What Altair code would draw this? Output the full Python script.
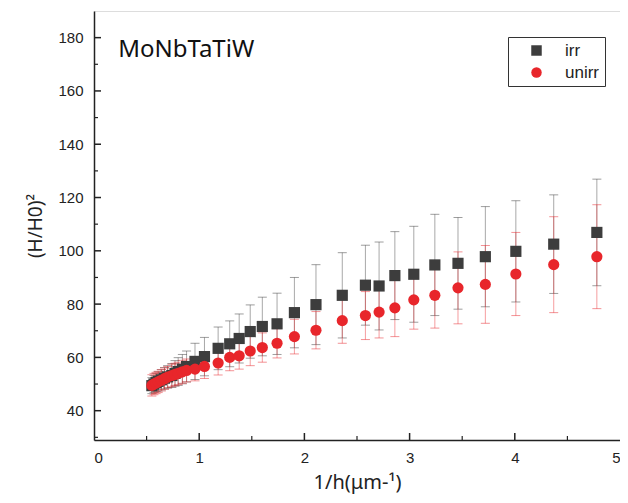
import altair as alt
import pandas as pd

# ---- data ----
x_vals = [0.55, 0.57, 0.59, 0.61, 0.64, 0.67, 0.70, 0.74, 0.77, 0.80, 0.84, 0.88,
          0.96, 1.05, 1.18, 1.29, 1.38, 1.485, 1.60, 1.74, 1.905, 2.11, 2.36, 2.58,
          2.71, 2.86, 3.04, 3.24, 3.46, 3.72, 4.01, 4.37, 4.78]
irr_y = [49.4, 50.0, 50.6, 51.0, 51.6, 52.2, 52.7, 53.2, 54.0, 54.7, 55.6, 56.6,
         58.5, 60.3, 63.4, 65.1, 67.1, 69.7, 71.6, 72.6, 76.8, 79.8, 83.3, 87.1,
         86.8, 90.7, 91.2, 94.7, 95.3, 97.8, 99.8, 102.5, 106.9]
irr_err = [3.0, 3.2, 3.4, 3.6, 3.8, 4.0, 4.2, 4.5, 4.8, 5.2, 5.5, 5.8,
           6.8, 7.2, 8.0, 8.6, 9.2, 10.0, 11.0, 11.5, 13.2, 15.0, 16.0, 15.0,
           16.5, 16.5, 18.0, 19.0, 17.2, 18.8, 19.0, 18.5, 20.0]
unirr_y = [49.5, 50.0, 50.4, 50.8, 51.4, 52.0, 52.6, 53.2, 53.6, 54.0, 54.6, 55.1,
           55.6, 56.6, 57.9, 60.0, 60.6, 62.4, 63.7, 65.3, 67.8, 70.2, 73.8, 75.7,
           77.0, 78.6, 81.6, 83.3, 86.1, 87.4, 91.3, 94.8, 97.8]
unirr_err = [4.0, 4.0, 4.0, 4.0, 4.0, 4.0, 4.0, 4.2, 4.2, 4.2, 4.3, 4.3,
             4.4, 4.5, 4.5, 5.0, 5.0, 5.5, 5.5, 5.5, 6.5, 7.0, 8.5, 9.0,
             9.7, 10.8, 11.0, 12.3, 13.5, 14.6, 15.6, 18.0, 19.5]
series_names = ["irr", "unirr"]

x_labels = [0, 1, 2, 3, 4, 5]
y_major = [40, 60, 80, 100, 120, 140, 160, 180]
y_minor = [30, 50, 70, 90, 110, 130, 150, 170]
x_major = [1, 2, 3, 4]
x_minor = [0.5, 1.5, 2.5, 3.5, 4.5]
label_text = ["MoNbTaTiW"]
label_x = [0.23]
label_y = [175.5]

# ---- tables ----
irr_df = pd.DataFrame({"x": x_vals, "y": irr_y,
                       "lo": [a - b for a, b in zip(irr_y, irr_err)],
                       "hi": [a + b for a, b in zip(irr_y, irr_err)],
                       "series": series_names[0]})
unirr_df = pd.DataFrame({"x": x_vals, "y": unirr_y,
                         "lo": [a - b for a, b in zip(unirr_y, unirr_err)],
                         "hi": [a + b for a, b in zip(unirr_y, unirr_err)],
                         "series": series_names[1]})
pts_df = pd.concat([irr_df, unirr_df], ignore_index=True)

GRAY = "#3d3d3d"
RED = "#e8262b"
XDOM = [0, 5]
YDOM = [29, 190]
FONT = "Liberation Sans"
TFONT = "Noto Sans"
W, H = 526, 429
# inward tick lengths expressed in data units (7 px and 4 px)
XU = (XDOM[1] - XDOM[0]) / W
YU = (YDOM[1] - YDOM[0]) / H

xs = alt.Scale(domain=XDOM, nice=False, zero=False)
ys = alt.Scale(domain=YDOM, nice=False, zero=False)

x_axis = alt.Axis(values=x_labels, format="d", title="1/h(μm-¹)", ticks=False, grid=False,
                  labelFont=FONT, labelFontSize=15, labelColor="#222", labelPadding=10,
                  titleFont=TFONT, titleFontSize=20, titleFontWeight="normal",
                  titleColor="#222", titlePadding=7, domainColor="#222", domainWidth=1.5)
y_axis = alt.Axis(values=y_major, title="(H/H0)²", ticks=False, grid=False,
                  labelFont=FONT, labelFontSize=15, labelColor="#222", labelPadding=11,
                  titleFont=TFONT, titleFontSize=19, titleFontWeight="normal",
                  titleColor="#222", titlePadding=12, domainColor="#222", domainWidth=1.5)


def err_layers(df, color):
    base = alt.Chart(df)
    rule = base.mark_rule(color=color, strokeWidth=1, opacity=0.45).encode(
        x=alt.X("x:Q", scale=xs, axis=x_axis), y=alt.Y("lo:Q", scale=ys, axis=y_axis), y2="hi:Q")
    cap_lo = base.mark_tick(color=color, orient="horizontal", size=9, thickness=1, opacity=0.5).encode(
        x=alt.X("x:Q", scale=xs), y=alt.Y("lo:Q", scale=ys))
    cap_hi = base.mark_tick(color=color, orient="horizontal", size=9, thickness=1, opacity=0.5).encode(
        x=alt.X("x:Q", scale=xs), y=alt.Y("hi:Q", scale=ys))
    return [rule, cap_lo, cap_hi]


legend = alt.Legend(orient="none", legendX=414, legendY=26, title=None,
                    strokeColor="#333", fillColor="white", padding=5,
                    labelFont=FONT, labelFontSize=17, labelColor="#222",
                    symbolSize=110, rowPadding=4, labelOffset=20, symbolOffset=15,
                    symbolOpacity=1)

points = alt.Chart(pts_df).mark_point(filled=True, size=125, opacity=1).encode(
    x=alt.X("x:Q", scale=xs),
    y=alt.Y("y:Q", scale=ys),
    color=alt.Color("series:N", scale=alt.Scale(domain=series_names, range=[GRAY, RED]),
                    legend=legend),
    shape=alt.Shape("series:N", scale=alt.Scale(domain=series_names, range=["square", "circle"]),
                    legend=legend),
)


def yticks(vals, length, sw):
    df = pd.DataFrame({"v": vals, "a": XDOM[0], "b": XDOM[0] + length * XU})
    return alt.Chart(df).mark_rule(color="#222", strokeWidth=sw).encode(
        y=alt.Y("v:Q", scale=ys), x=alt.X("a:Q", scale=xs), x2="b:Q")


def xticks(vals, length, sw):
    df = pd.DataFrame({"v": vals, "a": YDOM[0], "b": YDOM[0] + length * YU})
    return alt.Chart(df).mark_rule(color="#222", strokeWidth=sw).encode(
        x=alt.X("v:Q", scale=xs), y=alt.Y("a:Q", scale=ys), y2="b:Q")


label = alt.Chart(pd.DataFrame({"t": label_text, "x": label_x, "y": label_y})).mark_text(
    align="left", baseline="middle", font=TFONT, fontSize=24, color="#111").encode(
    x=alt.X("x:Q", scale=xs), y=alt.Y("y:Q", scale=ys), text="t:N")

layers = err_layers(irr_df, GRAY) + err_layers(unirr_df, RED) + [
    points, yticks(y_major, 7, 1.5), yticks(y_minor, 4, 1.2),
    xticks(x_major, 7, 1.5), xticks(x_minor, 4, 1.2), label]

chart = alt.layer(*layers).properties(
    width=W, height=H,
    autosize=alt.AutoSizeParams(type="none"),
    padding={"left": 86, "top": 3, "right": 0, "bottom": 55},
).configure_view(stroke="#222", strokeWidth=1.5).configure(background="white")

chart.save("out.html", embed_options={"renderer": "svg", "actions": False})
